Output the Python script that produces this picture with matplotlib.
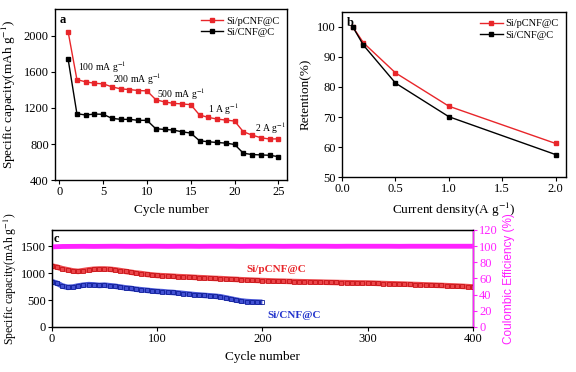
import numpy as np
import matplotlib.pyplot as plt

plt.rcParams['font.family'] = ['Liberation Serif', 'DejaVu Serif']
plt.rcParams['mathtext.fontset'] = 'stix'

# panel a: rate performance
cyc_a = list(range(1, 26))
rate_pcnf = [2045, 1516, 1490, 1475, 1468, 1435, 1412, 1405, 1394, 1390,
             1293, 1267, 1252, 1245, 1237, 1122, 1096, 1077, 1066, 1055,
             936, 899, 870, 855, 858]
rate_cnf = [1740, 1137, 1122, 1133, 1130, 1085, 1074, 1074, 1063, 1063,
            970, 962, 955, 936, 921, 836, 825, 817, 810, 795,
            698, 683, 679, 675, 660]
rate_labels = ['100 mA g$^{-1}$', '200 mA g$^{-1}$', '500 mA g$^{-1}$',
               '1 A g$^{-1}$', '2 A g$^{-1}$']
rate_label_x = [2.1, 6.1, 11.1, 17.0, 22.3]
rate_label_y = [1650, 1520, 1355, 1185, 980]

# panel b: retention
cur = [0.1, 0.2, 0.5, 1.0, 2.0]
ret_pcnf = [100, 94.7, 84.7, 73.6, 61.2]
ret_cnf = [100, 93.9, 81.3, 70.1, 57.5]

# panel c: cycling (every 5 cycles)
cyc_red = list(range(0, 401, 5))
cap_red = [1130, 1110, 1080, 1060, 1040, 1030, 1045, 1060, 1070, 1075,
           1075, 1070, 1060, 1045, 1030, 1015, 1000, 990, 975, 965,
           955, 950, 946, 940, 934, 930, 926, 920, 915, 911,
           905, 900, 897, 892, 886, 882, 876, 872, 868, 864,
           860, 857, 853, 850, 848, 845, 842, 840, 838, 836,
           834, 832, 829, 827, 825, 823, 821, 819, 817, 816,
           815, 812, 808, 805, 802, 800, 797, 794, 790, 787,
           784, 780, 777, 773, 770, 766, 762, 758, 753, 748, 742]
cyc_blue = list(range(0, 201, 5))
cap_blue = [840, 810, 760, 735, 740, 760, 775, 785, 780, 770,
            775, 765, 755, 740, 725, 715, 700, 690, 680, 670,
            660, 655, 645, 640, 630, 620, 610, 600, 592, 585,
            578, 570, 560, 540, 520, 500, 482, 472, 466, 462, 458]
cyc_ce = list(range(0, 401, 10))
ce = [99.0, 99.5, 99.6, 99.7, 99.6, 99.7, 99.8, 99.7, 99.7, 99.8,
      99.8, 99.7, 99.8, 99.8, 99.7, 99.8, 99.8, 99.8, 99.7, 99.8,
      99.8, 99.8, 99.7, 99.8, 99.8, 99.8, 99.8, 99.7, 99.8, 99.8,
      99.8, 99.8, 99.8, 99.7, 99.8, 99.8, 99.8, 99.8, 99.8, 99.8, 99.8]

red = '#e8262a'
blue = '#2233cc'
mag = '#ff22ff'
fs = 9

fig = plt.figure(figsize=(5.76, 3.72), dpi=100)

# a
ax1 = fig.add_axes([0.0955, 0.516, 0.403, 0.46])
ax1.plot(cyc_a, rate_pcnf, '-s', color=red, ms=3.2, lw=1, label='Si/pCNF@C')
ax1.plot(cyc_a, rate_cnf, '-s', color='black', ms=3.2, lw=1, label='Si/CNF@C')
for t, x, y in zip(rate_labels, rate_label_x, rate_label_y):
    ax1.text(x, y, t, fontsize=7, ha='left', va='center')
ax1.set_xlim(-0.5, 26)
ax1.set_ylim(400, 2300)
ax1.set_xticks([0, 5, 10, 15, 20, 25])
ax1.set_yticks([400, 800, 1200, 1600, 2000])
ax1.set_xlabel('Cycle number', fontsize=fs + 0.5)
ax1.set_ylabel('Specific capacity(mAh g$^{-1}$)', fontsize=fs + 0.5)
ax1.text(0.02, 0.97, 'a', transform=ax1.transAxes, fontsize=fs, fontweight='bold', va='top')
ax1.legend(loc='upper right', frameon=False, fontsize=7.5, handlelength=2.2,
           borderpad=0.2, labelspacing=0.2, handletextpad=0.3)

# b
ax2 = fig.add_axes([0.594, 0.524, 0.389, 0.444])
ax2.plot(cur, ret_pcnf, '-s', color=red, ms=3.2, lw=1, label='Si/pCNF@C')
ax2.plot(cur, ret_cnf, '-s', color='black', ms=3.2, lw=1, label='Si/CNF@C')
ax2.set_xlim(0, 2.1)
ax2.set_ylim(50, 105)
ax2.set_xticks([0.0, 0.5, 1.0, 1.5, 2.0])
ax2.set_yticks([50, 60, 70, 80, 90, 100])
ax2.set_xlabel('Current density(A g$^{-1}$)', fontsize=fs + 0.5)
ax2.set_ylabel('Retention(%)', fontsize=fs + 0.5)
ax2.text(0.02, 0.97, 'b', transform=ax2.transAxes, fontsize=fs, fontweight='bold', va='top')
ax2.legend(loc='upper right', frameon=False, fontsize=7.5, handlelength=2.2,
           borderpad=0.2, labelspacing=0.2, handletextpad=0.3)

# c
ax3 = fig.add_axes([0.090, 0.121, 0.731, 0.261])
ax3.plot(cyc_red, cap_red, '-', color=red, lw=4, alpha=0.85, solid_capstyle='butt')
ax3.plot(cyc_red, cap_red, 's', color='#c81418', mfc='none', ms=3.5, mew=0.6)
ax3.plot(cyc_blue, cap_blue, '-', color=blue, lw=4, alpha=0.85, solid_capstyle='butt')
ax3.plot(cyc_blue, cap_blue, 's', color='#101f99', mfc='none', ms=3.5, mew=0.6)
ax3.text(185, 1072, 'Si/pCNF@C', color=red, fontsize=8, fontweight='bold', va='center')
ax3.text(205, 217, 'Si/CNF@C', color=blue, fontsize=8, fontweight='bold', va='center')
ax3.set_xlim(0, 400)
ax3.set_ylim(0, 1800)
ax3.set_xticks([0, 100, 200, 300, 400])
ax3.set_yticks([0, 500, 1000, 1500])
ax3.set_xlabel('Cycle number', fontsize=fs + 0.5)
ax3.set_ylabel('Specific capacity(mAh g$^{-1}$)', fontsize=8.5)
ax3.text(0.005, 0.97, 'c', transform=ax3.transAxes, fontsize=fs, fontweight='bold', va='top')

ax4 = ax3.twinx()
ax4.plot(cyc_ce, ce, '-', color=mag, lw=3.5, solid_capstyle='butt')
ax4.set_ylim(0, 120)
ax4.set_yticks(range(0, 121, 20))
ax4.spines['right'].set_color(mag)
ax4.spines['right'].set_linewidth(1)
ax4.tick_params(axis='y', colors=mag, labelsize=fs, direction='out', length=3, pad=1.5)
ax4.set_ylabel('Coulombic Efficiency (%)', color=mag, fontsize=8.5,
               family=['Liberation Sans', 'DejaVu Sans'])

for ax in (ax1, ax2, ax3):
    ax.tick_params(labelsize=fs, direction='out', length=3, pad=1.5)
    for s in ax.spines.values():
        s.set_linewidth(1)
ax4.spines['right'].set_color(mag)
ax3.yaxis.labelpad = 1

fig.savefig('out.png', dpi=100)
